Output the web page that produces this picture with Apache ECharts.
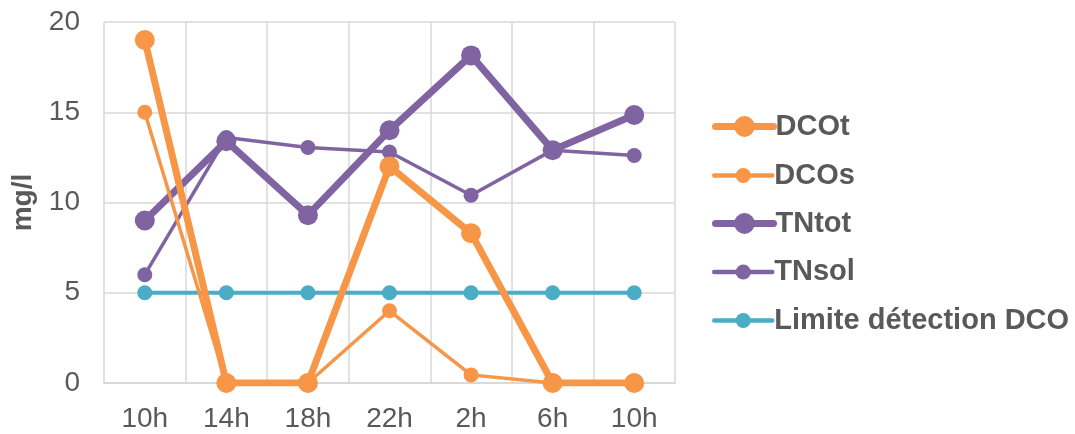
<!DOCTYPE html>
<html><head><meta charset="utf-8">
<script src="https://cdn.jsdelivr.net/npm/echarts@6/dist/echarts.min.js"></script>
<style>html,body{margin:0;padding:0;background:#fff}#c{width:1075px;height:434px}</style>
</head><body><div id="c"></div>
<script>
const categories = ['10h','14h','18h','22h','2h','6h','10h'];
const DCOt = [19, 0, 0, 12, 8.3, 0, 0];
const DCOs = [15, 0, 0, 4, 0.45, 0, 0];
const TNtot = [9, 13.4, 9.3, 14, 18.15, 12.9, 14.85];
const TNsol = [6, 13.6, 13.05, 12.8, 10.4, 12.9, 12.6];
const limite = [5, 5, 5, 5, 5, 5, 5];
const yTicks = [0, 5, 10, 15, 20];
const seriesNames = ['DCOt','DCOs','TNtot','TNsol','Limite détection DCO'];

const chart = echarts.init(document.getElementById('c'));
const font = 'Liberation Sans, Arial, sans-serif';
const ORANGE = '#F79646', PURPLE = '#8064A2', TEAL = '#4BACC6';
function s(name, data, color, lw, sz, z) {
  return {name, type:'line', data, z,
    lineStyle:{width:lw, color}, itemStyle:{color},
    symbol:'circle', symbolSize:sz, showSymbol:true, animation:false};
}
const legendCfg = [
  {name:seriesNames[0], c:125, h:26, lw:7, color:ORANGE},
  {name:seriesNames[1], c:170.5, h:19, lw:4.5, color:ORANGE},
  {name:seriesNames[2], c:222, h:26, lw:7, color:PURPLE},
  {name:seriesNames[3], c:267, h:19, lw:4.5, color:PURPLE},
  {name:seriesNames[4], c:315.5, h:19, lw:4.5, color:TEAL}
];
const legends = legendCfg.map(l => ({
  orient:'vertical', left:712, top:l.c - l.h/2, padding:0,
  itemWidth:58, itemHeight:l.h,
  data:[{name:l.name, lineStyle:{width:l.lw, color:l.color, cap:'round'}, itemStyle:{color:l.color}}],
  textStyle:{fontFamily:font, fontSize:29, fontWeight:'bold', color:'#595959', padding:[0,0,0,-3]}
}));
chart.setOption({
  animation:false,
  grid:{left:104, right:400, top:22, bottom:51},
  legend:legends,
  xAxis:{type:'category', data:categories, boundaryGap:true,
    axisLine:{lineStyle:{color:'#d9d9d9', width:2}}, axisTick:{show:false},
    splitLine:{show:true, lineStyle:{color:'#d9d9d9', width:1.5}},
    axisLabel:{fontFamily:font, fontSize:28, color:'#595959', margin:22, interval:0}},
  yAxis:{type:'value', min:yTicks[0], max:yTicks[yTicks.length-1], interval:5,
    name:'mg/l', nameLocation:'middle', nameGap:67, nameRotate:90,
    nameTextStyle:{fontFamily:font, fontSize:28, fontWeight:'bold', color:'#595959'},
    axisLine:{show:false}, axisTick:{show:false},
    splitLine:{lineStyle:{color:'#d9d9d9', width:1.5}},
    axisLabel:{fontFamily:font, fontSize:28, color:'#595959', margin:24}},
  series:[
    s(seriesNames[0], DCOt, ORANGE, 7, 20, 5),
    s(seriesNames[1], DCOs, ORANGE, 3.5, 15, 4),
    s(seriesNames[2], TNtot, PURPLE, 7, 20, 3),
    s(seriesNames[3], TNsol, PURPLE, 3.5, 15, 2),
    s(seriesNames[4], limite, TEAL, 4, 15, 1)
  ]
});
</script></body></html>
